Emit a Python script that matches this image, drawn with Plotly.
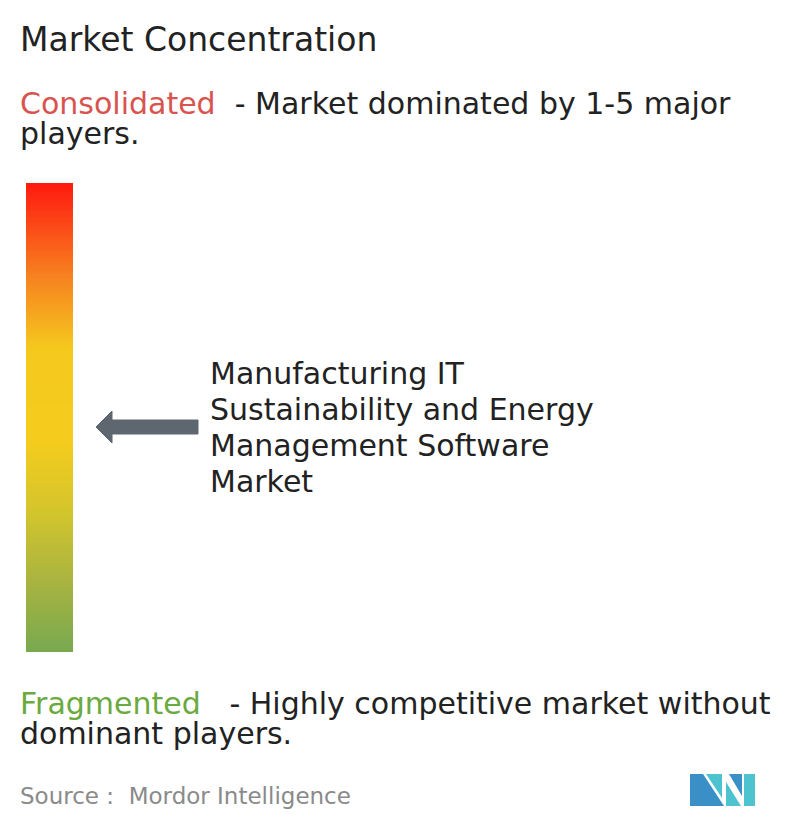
import numpy as np
import plotly.graph_objects as go

# gradient stops of the concentration bar (0 = fragmented, 1 = consolidated)
stop_pos = [0.0, 0.15, 0.3, 0.45, 0.65, 0.8, 1.0]
stop_col = ['#79A94F', '#A9B440', '#D4C52C', '#F5CC1E', '#F5C81E', '#F68320', '#FF1A10']

title = 'Market Concentration'
top_label = 'Consolidated'
top_desc = ['  - Market dominated by 1-5 major', 'players.']
bottom_label = 'Fragmented'
bottom_desc = ['   - Highly competitive market without', 'dominant players.']
market_name = ['Manufacturing IT', 'Sustainability and Energy', 'Management Software', 'Market']
source = 'Source :  Mordor Intelligence'

W, H = 796, 834
OFF = 8  # page body margin
FONT = 'DejaVu Sans'

levels = np.linspace(1, 0, 200)
y_edges = np.linspace(183, 652, 201)

fig = go.Figure()
fig.add_trace(go.Heatmap(
    x=[26, 73], y=y_edges, z=[[v] for v in levels],
    colorscale=[[p, c] for p, c in zip(stop_pos, stop_col)],
    zmin=0, zmax=1, showscale=False, hoverinfo='skip'))

# arrow pointing to the bar
fig.add_shape(type='path', path='M 96 427 L 112 411 L 112 420 L 198 420 L 198 434 L 112 434 L 112 443 Z',
              fillcolor='#5E6670', line=dict(color='#5E6670', width=1))

# logo
logo = [('M 690 806 L 690 774 L 703 774 L 724 806 Z', '#3A8FC6'),
        ('M 706 774 L 722 774 L 722 798 Z', '#4CC3CF'),
        ('M 726 806 L 726 782 L 741 806 Z', '#4CC3CF'),
        ('M 729 774 L 742 774 L 742 796 Z', '#3A8FC6'),
        ('M 744 774 L 755 774 L 755 806 L 744 806 Z', '#4CC3CF')]
for p, c in logo:
    fig.add_shape(type='path', path=p, fillcolor=c, line=dict(width=0))

def txt(x, y, s, size=30, color='#222222'):
    fig.add_annotation(x=x, y=y, text=s, showarrow=False, xanchor='left', yanchor='middle',
                       align='left', borderpad=0, font=dict(family=FONT, size=size, color=color))

txt(19, 39, title, 33)
txt(19, 103, f'<span style="color:#D9534F">{top_label}</span>{top_desc[0]}', 30)
txt(19, 133, top_desc[1], 30)
txt(19, 703, f'<span style="color:#6AAA3F">{bottom_label}</span>{bottom_desc[0]}', 30)
txt(19, 733, bottom_desc[1], 30)
for i, line in enumerate(market_name):
    txt(209, 373 + 36 * i, line, 30)
txt(19, 796, source, 23, '#8A8A8A')

fig.update_layout(
    width=W, height=H, margin=dict(l=0, r=0, t=0, b=0),
    plot_bgcolor='white', paper_bgcolor='white',
    xaxis=dict(range=[OFF, W + OFF], visible=False, fixedrange=True),
    yaxis=dict(range=[H + OFF, OFF], visible=False, fixedrange=True),
    showlegend=False)

fig.write_html('out.html')
